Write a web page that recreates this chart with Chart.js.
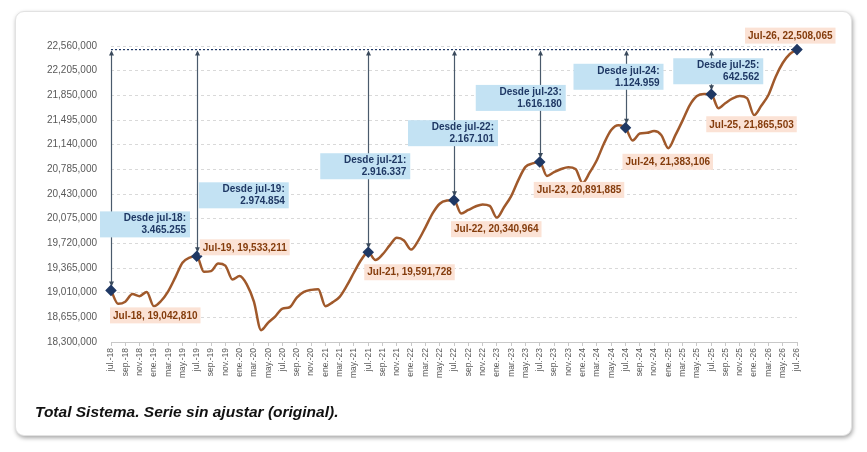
<!DOCTYPE html>
<html>
<head>
<meta charset="utf-8">
<script src="https://cdn.jsdelivr.net/npm/chart.js@4/dist/chart.umd.min.js"></script>
<style>
  html, body { margin: 0; padding: 0; background: #fff; }
  body { width: 867px; height: 452px; position: relative; overflow: hidden; font-family: "Liberation Sans", Arial, sans-serif; }
  #card { position: absolute; left: 15px; top: 11px; width: 835px; height: 423px; border: 1px solid #e2e2e2; border-radius: 9px; background: #fff; box-shadow: 1px 2px 4px rgba(0,0,0,0.35); }
  #chart { position: absolute; left: 0; top: 0; }
  #title { position: absolute; left: 35px; top: 403px; font: italic bold 15.5px "Liberation Sans", Arial, sans-serif; color: #111; }
</style>
</head>
<body>
<div id="card"></div>
<canvas id="chart" width="867" height="452"></canvas>
<div id="title">Total Sistema. Serie sin ajustar (original).</div>
<script>
// monthly series, jul-18 .. jul-26
const monthNames = ['jul.', 'ago.', 'sep.', 'oct.', 'nov.', 'dic.', 'ene.', 'feb.', 'mar.', 'abr.', 'may.', 'jun.'];
const startYear = 18;
const values = [
  19042810, 18850000, 18880000, 18990000, 18960000, 19020000, 18815000, 18890000, 19030000, 19230000, 19440000, 19515000,
  19533211, 19310000, 19320000, 19430000, 19400000, 19200000, 19250000, 19130000, 18880000, 18470000, 18580000, 18670000,
  18780000, 18800000, 18940000, 19020000, 19050000, 19060000, 18815000, 18870000, 18950000, 19110000, 19300000, 19480000,
  19591728, 19480000, 19560000, 19690000, 19800000, 19760000, 19630000, 19760000, 19950000, 20150000, 20290000, 20335000,
  20340964, 20150000, 20200000, 20250000, 20280000, 20260000, 20090000, 20240000, 20400000, 20630000, 20820000, 20870000,
  20891885, 20690000, 20745000, 20790000, 20815000, 20790000, 20590000, 20740000, 20920000, 21160000, 21350000, 21420000,
  21383106, 21200000, 21300000, 21310000, 21335000, 21280000, 21090000, 21280000, 21490000, 21710000, 21840000, 21870000,
  21865503, 21665000, 21740000, 21805000, 21840000, 21810000, 21565000, 21700000, 21855000, 22115000, 22315000, 22445000,
  22508065
];
const yMin = 18300000;
const yMax = 22560000;
const yStep = 355000;

// annotated points (every July except jul-20)
const markIdx = [0, 12, 36, 48, 60, 72, 84, 96];
const markNames = ['Jul-18', 'Jul-19', 'Jul-21', 'Jul-22', 'Jul-23', 'Jul-24', 'Jul-25', 'Jul-26'];
const sinceNames = ['jul-18', 'jul-19', 'jul-21', 'jul-22', 'jul-23', 'jul-24', 'jul-25'];

// placement of the annotation boxes relative to their point (px)
const valueBoxPos = [[-1, 25], [3, -9], [-4, 20], [-3, 29], [-6, 28], [-3, 34], [-5, 30], [-52, -14]];
const sinceBoxPos = [[-11, -79], [2, -74], [-48, -99], [-46, -80], [-64, -77], [-52, -64], [-38, -36]];

const labels = values.map((v, i) => {
  const m = i % 12;
  const yr = startYear + Math.floor((i + 6) / 12);
  return monthNames[m] + '-' + yr;
});

const fmtComma = n => String(n).replace(/\B(?=(\d{3})+(?!\d))/g, ',');
const fmtDot = n => String(n).replace(/\B(?=(\d{3})+(?!\d))/g, '.');

const lastIdx = values.length - 1;

const annotPlugin = {
  id: 'annot',
  beforeDatasetsDraw(chart) {
    const { ctx, scales: { x, y } } = chart;
    const topY = y.getPixelForValue(values[lastIdx]);
    ctx.save();
    // dotted reference line at the last value
    ctx.strokeStyle = '#1f3864';
    ctx.lineWidth = 1.2;
    ctx.setLineDash([2, 2]);
    ctx.beginPath();
    ctx.moveTo(x.getPixelForValue(0), topY);
    ctx.lineTo(x.getPixelForValue(lastIdx), topY);
    ctx.stroke();
    ctx.setLineDash([]);
    // vertical arrows
    markIdx.slice(0, -1).forEach(i => {
      const px = Math.round(x.getPixelForValue(i)) + 0.5;
      const py = y.getPixelForValue(values[i]);
      ctx.strokeStyle = '#4a5a6c';
      ctx.fillStyle = '#3a4a5c';
      ctx.lineWidth = 1.2;
      ctx.beginPath();
      ctx.moveTo(px, topY + 2);
      ctx.lineTo(px, py - 4);
      ctx.stroke();
      ctx.beginPath();
      ctx.moveTo(px, topY + 1);
      ctx.lineTo(px - 2.5, topY + 6);
      ctx.lineTo(px + 2.5, topY + 6);
      ctx.fill();
      ctx.beginPath();
      ctx.moveTo(px, py - 4);
      ctx.lineTo(px - 2.5, py - 9);
      ctx.lineTo(px + 2.5, py - 9);
      ctx.fill();
    });
    ctx.restore();
  },
  afterDatasetsDraw(chart) {
    const { ctx, scales: { x, y } } = chart;
    const last = values[lastIdx];
    ctx.save();
    // "Desde" boxes
    ctx.font = 'bold 10px "Liberation Sans", Arial, sans-serif';
    ctx.textAlign = 'right';
    ctx.textBaseline = 'middle';
    sinceNames.forEach((name, k) => {
      const i = markIdx[k];
      const px = x.getPixelForValue(i);
      const py = y.getPixelForValue(values[i]);
      const bx = px + sinceBoxPos[k][0];
      const by = py + sinceBoxPos[k][1];
      ctx.fillStyle = '#c3e2f3';
      ctx.fillRect(bx, by, 90, 26);
      ctx.fillStyle = '#1f3864';
      ctx.fillText('Desde ' + name + ':', bx + 86, by + 7);
      ctx.fillText(fmtDot(last - values[i]), bx + 86, by + 19);
    });
    // value labels
    ctx.textAlign = 'left';
    markIdx.forEach((i, k) => {
      const px = x.getPixelForValue(i);
      const py = y.getPixelForValue(values[i]);
      const txt = markNames[k] + ', ' + fmtComma(values[i]);
      const w = ctx.measureText(txt).width + 6;
      const bx = px + valueBoxPos[k][0];
      const cy = py + valueBoxPos[k][1];
      ctx.fillStyle = '#fbe2d5';
      ctx.fillRect(bx, cy - 8, w, 16);
      ctx.fillStyle = '#843c0c';
      ctx.fillText(txt, bx + 3, cy + 0.5);
    });
    ctx.restore();
  }
};

new Chart(document.getElementById('chart'), {
  type: 'line',
  data: {
    labels: labels,
    datasets: [{
      data: values,
      borderColor: '#a0592b',
      borderWidth: 2.5,
      cubicInterpolationMode: 'monotone',
      pointStyle: 'rectRot',
      pointRadius: ctx => markIdx.includes(ctx.dataIndex) ? 4 : 0,
      pointHoverRadius: 0,
      pointBackgroundColor: '#1f3864',
      pointBorderColor: '#1f3864',
      clip: false
    }]
  },
  options: {
    responsive: false,
    animation: false,
    layout: { padding: { top: 46, right: 70, left: 0, bottom: 0 } },
    plugins: { legend: { display: false }, tooltip: { enabled: false } },
    scales: {
      x: {
        offset: false,
        afterFit: s => { s.height = 110; },
        border: { display: true, color: '#c8c8c8' },
        grid: {
          drawOnChartArea: false,
          tickLength: 4,
          color: c => (c.index % 2 === 0 ? '#c8c8c8' : 'rgba(0,0,0,0)')
        },
        ticks: {
          autoSkip: false,
          maxRotation: 90,
          minRotation: 90,
          padding: 2,
          color: '#595959',
          font: { family: '"Liberation Sans", Arial, sans-serif', size: 8.5 },
          callback: (v, i) => (i % 2 === 0 ? labels[i] : '')
        }
      },
      y: {
        min: yMin,
        max: yMax,
        afterFit: s => { s.width = 111; },
        afterBuildTicks: s => {
          s.ticks = [];
          for (let v = yMin; v <= yMax; v += yStep) s.ticks.push({ value: v });
        },
        border: { display: false, dash: [3, 3] },
        grid: { color: '#d9d9d9', drawTicks: false, lineWidth: 1 },
        ticks: {
          padding: 14,
          color: '#595959',
          font: { family: '"Liberation Sans", Arial, sans-serif', size: 10 },
          callback: v => fmtComma(v)
        }
      }
    }
  },
  plugins: [annotPlugin]
});
</script>
</body>
</html>
